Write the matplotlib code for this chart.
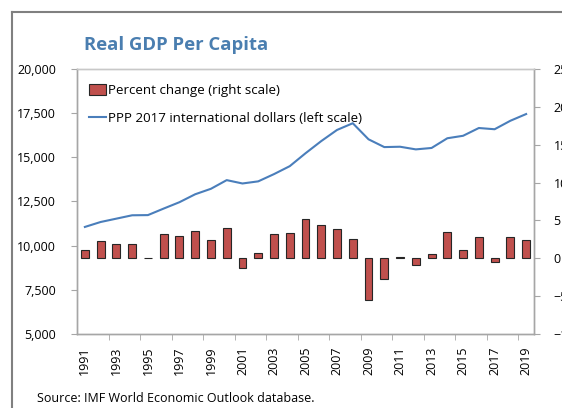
import matplotlib.pyplot as plt
from matplotlib.lines import Line2D

plt.rcParams["font.family"] = ["Open Sans", "DejaVu Sans"]

# Data
years = list(range(1991, 2020))
pct_change = [1.15, 2.3, 1.9, 1.85, 0.1, 3.25, 3.0, 3.65, 2.45, 4.0,
              -1.3, 0.75, 3.15, 3.3, 5.2, 4.45, 3.85, 2.55, -5.45, -2.7,
              0.2, -0.9, 0.55, 3.5, 1.05, 2.75, -0.45, 2.8, 2.45]
ppp_dollars = [11060, 11340, 11530, 11720, 11730, 12100, 12460, 12910, 13220, 13710,
               13520, 13640, 14050, 14500, 15230, 15920, 16550, 16930, 16020, 15580,
               15600, 15450, 15530, 16080, 16220, 16660, 16590, 17070, 17450]
left_ticks = [5000, 7500, 10000, 12500, 15000, 17500, 20000]
right_ticks = [-10, -5, 0, 5, 10, 15, 20, 25]

bar_color = "#c0504d"
line_color = "#4a7ebb"
spine_color = "#a6a6a6"

fig = plt.figure(figsize=(5.62, 4.08), dpi=100)
ax = fig.add_axes([77 / 562, 1 - 334 / 408, (534 - 77) / 562, (334 - 69) / 408])
ax2 = ax.twinx()

x = list(range(len(years)))

# Line on left scale
ax.plot(x, ppp_dollars, color=line_color, lw=1.5, zorder=3)
ax.set_ylim(5000, 20000)
ax.set_yticks(left_ticks)
ax.set_yticklabels([f"{v:,}" for v in left_ticks])

# Bars on right scale
ax2.bar(x, pct_change, width=0.5, color=bar_color, edgecolor="#262626", linewidth=0.8)
ax2.set_ylim(-10, 25)
ax2.set_yticks(right_ticks)
ax2.set_zorder(1)
ax.set_zorder(2)
ax.patch.set_visible(False)

# x axis: labels every other year, ticks between categories
ax.set_xlim(-0.5, len(years) - 0.5)
ax.set_xticks(x[::2])
ax.set_xticklabels([str(y) for y in years[::2]], rotation=90)
ax.set_xticks([i + 1.5 for i in range(0, len(years) - 2, 2)], minor=True)
ax.tick_params(axis="x", which="major", length=0, pad=9, labelsize=9)
ax.tick_params(axis="x", which="minor", length=4, color=spine_color, direction="out")
ax.tick_params(axis="y", length=4, color=spine_color, pad=11, labelsize=9)
ax2.tick_params(axis="y", length=4, color=spine_color, pad=10, labelsize=9)

for a in (ax, ax2):
    for s in a.spines.values():
        s.set_color(spine_color)
        s.set_linewidth(1.0)
    a.spines["top"].set_color("#c8c8c8")

# Legend
handles = [plt.Rectangle((0, 0), 1, 1, facecolor=bar_color, edgecolor="#262626", linewidth=0.8),
           Line2D([0], [0], color=line_color, lw=1.5)]
labels = ["Percent change (right scale)", "PPP 2017 international dollars (left scale)"]
ax.legend(handles, labels, loc="upper left", bbox_to_anchor=(0.005, 0.978), frameon=False,
          fontsize=9.6, handlelength=1.3, handleheight=0.85, handletextpad=0.15,
          labelspacing=1.1, borderaxespad=0.3)

# Title and source
fig.text(84 / 562, 1 - 45 / 408, "Real GDP Per Capita", fontsize=13.3, fontweight="bold",
         color="#4a7eb0", va="center", ha="left")
fig.text(37 / 562, 1 - 399 / 408, "Source: IMF World Economic Outlook database.",
         fontsize=9, va="center", ha="left")

# Outer frame
fig.add_artist(Line2D([12 / 562, 12 / 562], [0, 1 - 12 / 408], color="#808080", lw=1.5,
                      transform=fig.transFigure))
fig.add_artist(Line2D([12 / 562, 1], [1 - 12 / 408, 1 - 12 / 408], color="#808080", lw=1.5,
                      transform=fig.transFigure))

fig.savefig("out.png", dpi=100)
